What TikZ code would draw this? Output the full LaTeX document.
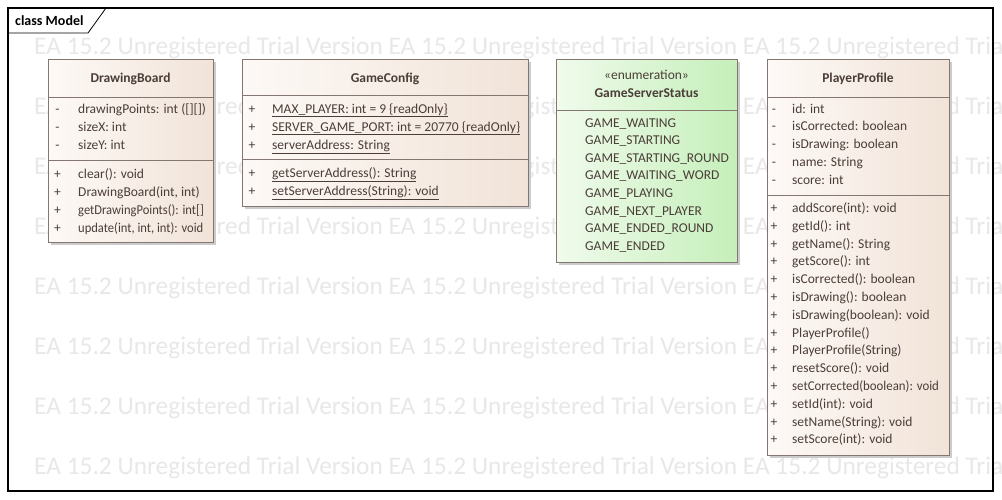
\documentclass[tikz,border=0pt]{standalone}
\usepackage{fontspec}
\usepackage{graphicx}
\setmainfont{Carlito}
\definecolor{boxline}{HTML}{847670}
\definecolor{boxtext}{HTML}{4B3D38}
\definecolor{beigeA}{HTML}{FDF9F6}
\definecolor{beigeB}{HTML}{F1E3D8}
\definecolor{greenA}{HTML}{F0FBEC}
\definecolor{greenB}{HTML}{C5EFBA}
\definecolor{wmgray}{HTML}{E8E8E8}
\newcommand{\squeezed}[2][0.93]{\scalebox{#1}[1]{#2}}
\begin{document}
\begin{tikzpicture}[x=1pt, y=-1pt,
        member/.style={anchor=base west, inner sep=0pt, text=boxtext, font=\fontsize{13.5}{16}\selectfont},
        vis/.style={anchor=base, inner sep=0pt, text=boxtext, font=\fontsize{13.5}{16}\selectfont},
        title/.style={inner sep=0pt, text=boxtext, font=\fontsize{13.5}{16}\selectfont\bfseries},
        shadow/.style={fill=black!20},
        border/.style={draw=boxline, line width=0.8pt}]
            \useasboundingbox (0,0) rectangle (1002,499);
            \fill[white] (0,0) rectangle (1002,499);

            % watermark
            \begin{scope}
                \clip (0,0) rectangle (1002,499);
                \foreach \r in {0,...,7} {
                        \node[anchor=base west, inner sep=0pt, text=wmgray, font=\fontsize{25.4}{30}\selectfont] (wm\r) at (34, 54+60*\r)
                            {EA 15.2 Unregistered Trial Version EA 15.2 Unregistered Trial Version EA 15.2 Unregistered Trial Version};
                    }
            \end{scope}

            % frame
            \draw[line width=1.2pt] (8,8) rectangle (993,491);
            \draw[line width=0.8pt] (8,33) -- (88,33) -- (106,8);
            \node[anchor=base west, inner sep=0pt, font=\fontsize{14}{16}\selectfont\bfseries] (frametitle) at (15,25) {class Model};

            % DrawingBoard
            \fill[shadow] (51,62) rectangle (216,245);
            \shade[left color=beigeA, right color=beigeB] (48,59) rectangle (213,242);
            \draw[border] (48,59) rectangle (213,242);
            \draw[border] (48,97) -- (213,97);
            \draw[border] (48,160) -- (213,160);
            \node[title] (dbname) at (130.5,79) {DrawingBoard};
            \foreach \v/\t [count=\i from 0] in {-/drawingPoints: int ([][]), -/sizeX: int, -/sizeY: int} {
                    \node[vis] (dbv\i) at (57.5, 113+18*\i) {\v};
                    \node[member] (dba\i) at (78, 113+18*\i) {\t};
                }
            \foreach \v/\t [count=\i from 0] in {+/clear(): void, {+/DrawingBoard(int, int)}, +/\squeezed{getDrawingPoints(): int[]}, {+/\squeezed{update(int, int, int): void}}} {
                    \node[vis] (dbw\i) at (57.5, 178+18*\i) {\v};
                    \node[member] (dbo\i) at (78, 178+18*\i) {\t};
                }

            % GameConfig
            \fill[shadow] (245,62) rectangle (531,209);
            \shade[left color=beigeA, right color=beigeB] (242,59) rectangle (528,206);
            \draw[border] (242,59) rectangle (528,206);
            \draw[border] (242,95) -- (528,95);
            \draw[border] (242,159) -- (528,159);
            \node[title] (gcname) at (385,79) {GameConfig};
            \foreach \t [count=\i from 0] in {MAX\_PLAYER: int = 9 \{readOnly\}, SERVER\_GAME\_PORT: int = 20770 \{readOnly\}, serverAddress: String} {
                    \node[vis] (gcv\i) at (252, 113+18*\i) {+};
                    \node[member] (gca\i) at (272, 113+18*\i) {\underline{\t}};
                }
            \foreach \t [count=\i from 0] in {getServerAddress(): String, setServerAddress(String): void} {
                    \node[vis] (gcw\i) at (252, 177+18*\i) {+};
                    \node[member] (gco\i) at (272, 177+18*\i) {\underline{\t}};
                }

            % GameServerStatus
            \fill[shadow] (559,62) rectangle (740,265);
            \shade[left color=greenA, right color=greenB] (556,59) rectangle (737,262);
            \draw[border] (556,59) rectangle (737,262);
            \draw[border] (556,110) -- (737,110);
            \node[inner sep=0pt, text=boxtext, font=\fontsize{13.5}{16}\selectfont] (gsstereo) at (646.5,75) {«enumeration»};
            \node[title] (gsname) at (646.5,93) {GameServerStatus};
            \foreach \t [count=\i from 0] in {GAME\_WAITING, GAME\_STARTING, GAME\_STARTING\_ROUND, GAME\_WAITING\_WORD,
                    GAME\_PLAYING, GAME\_NEXT\_PLAYER, GAME\_ENDED\_ROUND, GAME\_ENDED} {
                    \node[member] (gsl\i) at (585, 127+17.6*\i) {\t};
                }

            % PlayerProfile
            \fill[shadow] (770,62) rectangle (952,458);
            \shade[left color=beigeA, right color=beigeB] (767,59) rectangle (949,455);
            \draw[border] (767,59) rectangle (949,455);
            \draw[border] (767,97) -- (949,97);
            \draw[border] (767,195) -- (949,195);
            \node[title] (ppname) at (858,79) {PlayerProfile};
            \foreach \t [count=\i from 0] in {id: int, isCorrected: boolean, isDrawing: boolean, name: String, score: int} {
                    \node[vis] (ppv\i) at (774, 113+17.8*\i) {-};
                    \node[member] (ppa\i) at (792, 113+17.8*\i) {\t};
                }
            \foreach \t [count=\i from 0] in {addScore(int): void, getId(): int, getName(): String, getScore(): int,
                    isCorrected(): boolean, isDrawing(): boolean, isDrawing(boolean): void, PlayerProfile(),
                    PlayerProfile(String), resetScore(): void, \squeezed[0.95]{setCorrected(boolean): void}, setId(int): void,
                    setName(String): void, setScore(int): void} {
                    \node[vis] (ppw\i) at (774, 212.5+17.8*\i) {+};
                    \node[member] (ppo\i) at (792, 212.5+17.8*\i) {\t};
                }
        \end{tikzpicture}
\end{document}
